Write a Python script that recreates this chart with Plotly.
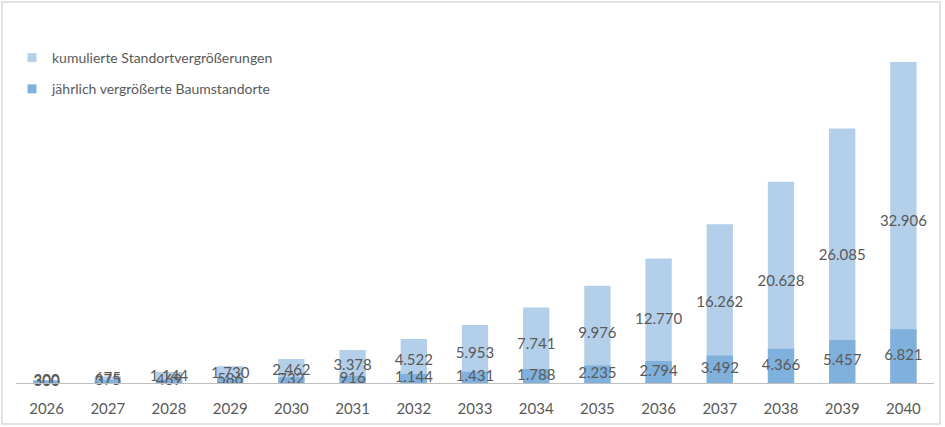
import plotly.graph_objects as go

years = ["2026", "2027", "2028", "2029", "2030", "2031", "2032", "2033",
         "2034", "2035", "2036", "2037", "2038", "2039", "2040"]
annual = [300, 375, 469, 586, 732, 916, 1144, 1431, 1788, 2235, 2794, 3492, 4366, 5457, 6821]
cumulative = [300, 675, 1144, 1730, 2462, 3378, 4522, 5953, 7741, 9976, 12770, 16262, 20628, 26085, 32906]
names = ["kumulierte Standortvergrößerungen", "jährlich vergrößerte Baumstandorte"]

c_light = "#b4cfe9"
c_dark = "#80b1dd"
txt = "#595959"
font = "Lato"

fig = go.Figure()
fig.add_trace(go.Bar(x=years, y=cumulative, name=names[0],
                     marker=dict(color=c_light, line=dict(width=0)), width=0.43,
                     showlegend=False))
fig.add_trace(go.Bar(x=years, y=annual, name=names[1], yaxis="y2",
                     marker=dict(color=c_dark, line=dict(width=0)), width=0.43,
                     showlegend=False))
fig.add_trace(go.Scatter(x=years, y=[v / 2 for v in cumulative], customdata=cumulative,
                         mode="text", texttemplate="%{customdata:,.0f}",
                         textfont=dict(color=txt, size=15, family=font),
                         showlegend=False, hoverinfo="skip", cliponaxis=False))
fig.add_trace(go.Scatter(x=years, y=[v / 2 for v in annual], customdata=annual,
                         mode="text", texttemplate="%{customdata:,.0f}", yaxis="y2",
                         textfont=dict(color=txt, size=15, family=font),
                         showlegend=False, hoverinfo="skip", cliponaxis=False))
# legend entries
for nm, col, grp in [(names[0], c_light, "a"), (names[1], c_dark, "b")]:
    fig.add_trace(go.Scatter(x=[None], y=[None], mode="markers", name=nm,
                             marker=dict(symbol="square", size=9, color=col),
                             legendgroup=grp, showlegend=True))

fig.update_layout(
    width=945, height=427,
    margin=dict(l=16, r=11, t=40, b=44),
    paper_bgcolor="white", plot_bgcolor="white",
    barmode="overlay",
    separators=",.",
    font=dict(family=font, color=txt, size=15),
    showlegend=True,
    legend=dict(x=0.0, y=0.994, xanchor="left", yanchor="top", indentation=-4,
                font=dict(size=14, color=txt, family=font),
                tracegroupgap=10, bgcolor="rgba(0,0,0,0)"),
    xaxis=dict(showgrid=False, showline=True, linecolor="#bfbfbf", linewidth=1,
               range=[-0.5, len(years) - 0.5], autorange=False,
               ticks="", ticklabelstandoff=12, tickfont=dict(size=15, color=txt),
               fixedrange=True),
    yaxis=dict(visible=False, range=[0, 35160], showgrid=False, zeroline=False),
    yaxis2=dict(visible=False, range=[0, 43600], overlaying="y", showgrid=False,
                zeroline=False),
    shapes=[dict(type="rect", xref="paper", yref="paper",
                 x0=-0.0153, x1=1.0065, y0=-0.1195, y1=1.1108,
                 line=dict(color="#d9d9d9", width=1.5), fillcolor="rgba(0,0,0,0)")],
)

fig.write_html("out.html")
